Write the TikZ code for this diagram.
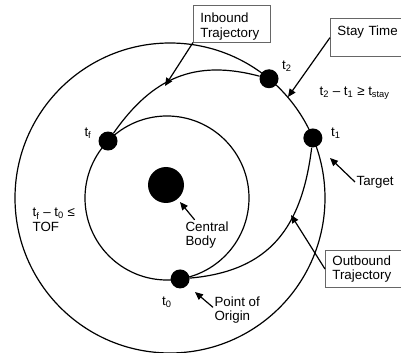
\documentclass[tikz,border=0pt]{standalone}
\usepackage{fontspec}
\setmainfont{Liberation Sans}
\usetikzlibrary{arrows.meta,calc}
\tikzset{orbit/.style={line width=.9pt},
         traj/.style={line width=.9pt},
         ptr/.style={-{Triangle[length=6pt,width=5.2pt]},line width=.9pt},
         dot/.style={circle,fill,inner sep=0pt,minimum size=14.25pt},
         lbox/.style={draw=black!60,line width=.6pt,align=left,anchor=north west,
                      inner xsep=5.25pt,inner ysep=1.5pt},
         txt/.style={align=left,inner sep=1pt}}

\begin{document}
\begin{tikzpicture}[x=.75pt,y=.75pt,font=\fontsize{10}{11}\selectfont]
  \useasboundingbox (0,0) rectangle (401,-353);
  \coordinate (oc) at (170,-198);
  \coordinate (ic) at (167,-198);
  \draw[orbit] (oc) circle (155);
  \draw[orbit] (ic) circle (82);
  \node[dot,minimum size=27pt] (body) at (166,-185) {};
  % points on the two orbits
  \node[dot] (t2) at ($(oc)+(50.3:155)$) {};
  \node[dot] (t1) at ($(oc)+(22.8:155)$) {};
  \node[dot] (tf) at ($(ic)+(136:82)$) {};
  \node[dot] (t0) at ($(ic)+(-80.8:82)$) {};
  \draw[traj] (t0) to[out=5,in=-97,looseness=1.15] (t1);
  \draw[traj] (t2) to[out=165,in=55,looseness=1.1] (tf);
  \node (lf) at (88,-133) {t\textsubscript{f}};
  \node (l2) at (287,-66) {t\textsubscript{2}};
  \node (l1) at (336,-133) {t\textsubscript{1}};
  \node (l0) at (167,-302) {t\textsubscript{0}};
  \node[txt,anchor=west] (tof) at (31,-220) {t\textsubscript{f} – t\textsubscript{0} ≤\\TOF};
  \node[txt,anchor=west] (stay) at (318,-93) {t\textsubscript{2} – t\textsubscript{1} ≥\ t\textsubscript{stay}};
  \node[txt,anchor=west] (target) at (355,-182) {Target};
  \node[txt,anchor=west] (origin) at (213,-310) {Point of\\Origin};
  \node[txt,anchor=west] (cbody) at (184,-235) {Central\\Body};
  % boxed labels
  \node[lbox,text width=47.25pt] (inbox) at (193,-5) {\rule{0pt}{11.5pt}Inbound\\Trajectory};
  \node[lbox,text width=52pt] (staybox) at (330,-18) {\rule{0pt}{11.5pt}Stay Time\\\strut};
  \node[lbox,text width=52pt,inner ysep=3.8pt] (outbox) at (325,-250) {Outbound\\Trajectory};
  % pointers
  \coordinate (inTip) at (165,-86);
  \coordinate (stayTip) at (288,-97);
  \coordinate (targetTip) at (330,-158);
  \coordinate (outTip) at (291,-215);
  \coordinate (originTip) at (195,-292);
  \coordinate (bodyTip) at (180,-202);
  \draw[ptr] (inbox.south west) -- (inTip);
  \draw[ptr] (staybox.west) -- (stayTip);
  \draw[ptr] (target.west) -- (targetTip);
  \draw[ptr] (outbox.west) -- (outTip);
  \draw[ptr] ([yshift=2pt]origin.west) -- (originTip);
  \draw[ptr] ([xshift=8pt]cbody.north west) -- (bodyTip);
\end{tikzpicture}
\end{document}
